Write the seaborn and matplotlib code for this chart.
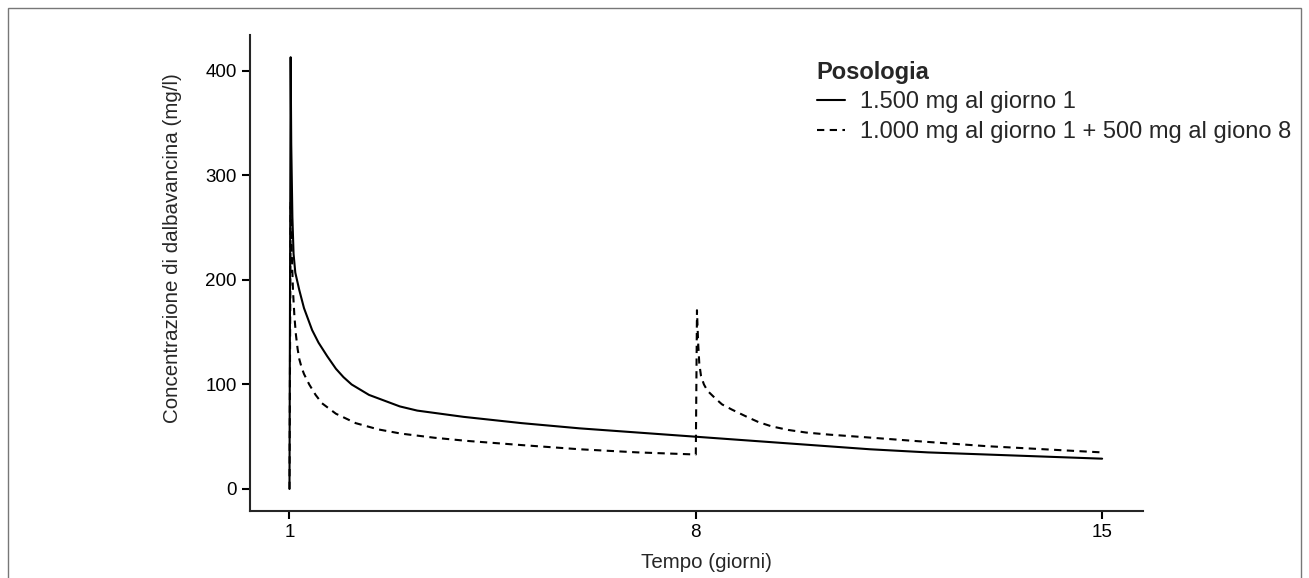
import seaborn as sns
import pandas as pd
import matplotlib.pyplot as plt
from matplotlib.lines import Line2D
from matplotlib.patches import Rectangle

#-----------------------------------------------------------------------------------------------------------------------
"""Data read off the reference"""
label_a = "1.500 mg al giorno 1"
label_b = "1.000 mg al giorno 1 + 500 mg al giono 8"

tempo_a = [1.0, 1.02, 1.03, 1.05, 1.07, 1.1, 1.17, 1.25, 1.39, 1.5, 1.65, 1.8, 1.93, 2.07, 2.37, 2.9,
           3.2, 4.0, 5.0, 6.0, 7.0, 8.0, 9.0, 10.0, 11.0, 12.0, 13.0, 14.0, 15.0]
conc_a = [0, 413, 330, 260, 225, 207, 190, 173, 152, 140, 127, 115, 107, 100, 90, 79,
          75, 69, 63, 58, 54, 50, 46, 42, 38, 35, 33, 31, 29]

tempo_b = [1.0, 1.02, 1.04, 1.06, 1.085, 1.11, 1.14, 1.17, 1.21, 1.25, 1.34, 1.45, 1.56, 1.8, 2.14,
           2.53, 2.92, 3.5, 4.06, 5.0, 6.0, 7.0, 8.0, 8.02, 8.04, 8.06, 8.09, 8.14, 8.2, 8.33,
           8.45, 8.62, 8.75, 8.9, 9.08, 9.3, 9.59, 9.9, 10.3, 10.8, 12.0, 13.0, 14.0, 15.0]
conc_b = [0, 275, 225, 190, 165, 148, 134, 124, 116, 110, 100, 90, 82, 72, 63,
          57, 53, 49, 46, 42, 38, 35, 33, 171, 140, 120, 108, 100, 94, 87,
          81, 76, 72.5, 68.5, 64, 60, 56.5, 54, 52, 50, 45, 41, 38, 35]

x_ticks = [1, 8, 15]
y_ticks = [0, 100, 200, 300, 400]

df = pd.concat([
    pd.DataFrame({"tempo": tempo_a, "conc": conc_a, "posologia": label_a}),
    pd.DataFrame({"tempo": tempo_b, "conc": conc_b, "posologia": label_b}),
], ignore_index=True)

#-----------------------------------------------------------------------------------------------------------------------
"""Figure"""
sns.set_style("ticks")
plt.rcParams['font.family'] = ['Liberation Sans', 'DejaVu Sans']

fig = plt.figure(figsize=(13.09, 5.78), dpi=100)
ax = fig.add_axes([0.191, 0.116, 0.682, 0.823])

sns.lineplot(data=df, x="tempo", y="conc", hue="posologia", style="posologia",
             palette={label_a: "black", label_b: "black"},
             dashes={label_a: "", label_b: (3.5, 2.6)},
             estimator=None, sort=False, linewidth=1.5, legend=False, ax=ax)

#-----------------------------------------------------------------------------------------------------------------------
"""Axes styling"""
ax.set_xlim(0.32, 15.7)
ax.set_ylim(-21, 434)
ax.set_xticks(x_ticks)
ax.set_yticks(y_ticks)
ax.spines['top'].set_visible(False)
ax.spines['right'].set_visible(False)
ax.spines['left'].set_linewidth(1.5)
ax.spines['bottom'].set_linewidth(1.5)
ax.tick_params(axis='both', width=1.5, length=6, labelsize=13.5, colors='black')
ax.set_xlabel("Tempo (giorni)", fontsize=14.8)
ax.set_ylabel("Concentrazione di dalbavancina (mg/l)", fontsize=14.8)
ax.xaxis.set_label_coords(0.511, -0.088)
ax.yaxis.set_label_coords(-0.076, 0.5525)

#Legend
handles = [Line2D([], [], color='black', lw=1.5),
           Line2D([], [], color='black', lw=1.5, dashes=(3.5, 2.6))]
leg = fig.legend(handles, [label_a, label_b], title="Posologia", frameon=False,
                 loc='upper left', bbox_to_anchor=(0.624, 0.895), fontsize=17,
                 title_fontproperties={'weight': 'bold', 'size': 17},
                 alignment='left', handlelength=1.18, handletextpad=0.64,
                 labelspacing=0.33, borderpad=0, borderaxespad=0)

#Outer frame
fig.patches.append(Rectangle((0.0061, -0.05), 0.9878, 1.036, transform=fig.transFigure,
                             fill=False, edgecolor='#777777', lw=1))

fig.savefig("out.png", dpi=100)
